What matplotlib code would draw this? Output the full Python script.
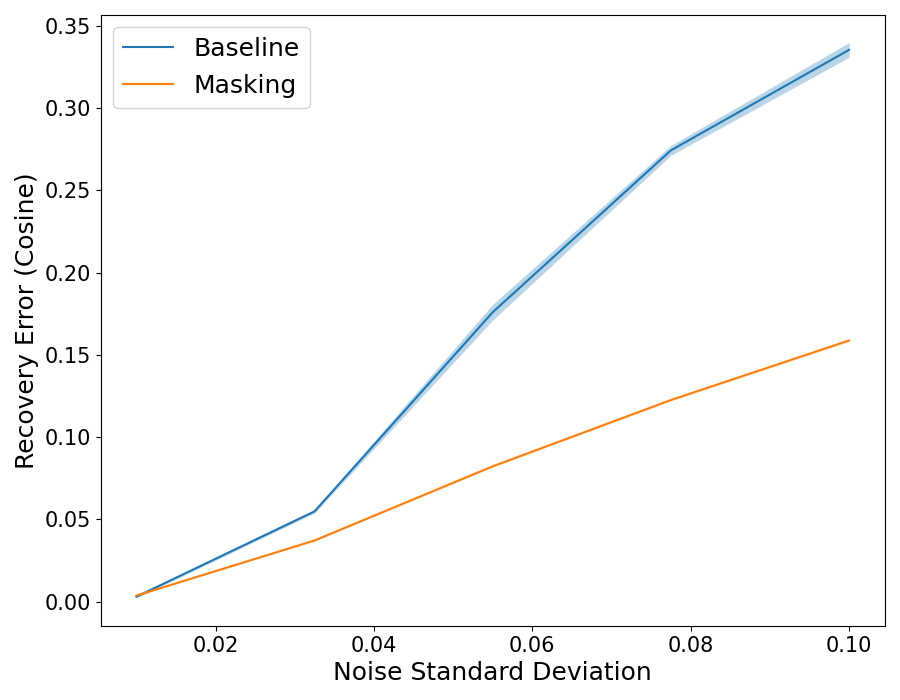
import matplotlib
matplotlib.use("Agg")
import matplotlib.pyplot as plt
import numpy as np

noise_std = [0.01, 0.0325, 0.055, 0.0775, 0.1]

baseline_mean = [0.003, 0.0549, 0.176, 0.2744, 0.3355]
baseline_err = [0.0008, 0.001, 0.0048, 0.003, 0.0045]

masking_mean = [0.0037, 0.0372, 0.0823, 0.1226, 0.1588]
masking_err = [0.0003, 0.0004, 0.0005, 0.0005, 0.0006]

fig, ax = plt.subplots(figsize=(9, 7), dpi=100)

for label, mean, err in [("Baseline", baseline_mean, baseline_err),
                         ("Masking", masking_mean, masking_err)]:
    mean = np.array(mean)
    err = np.array(err)
    line, = ax.plot(noise_std, mean, label=label)
    ax.fill_between(noise_std, mean - err, mean + err,
                    color=line.get_color(), alpha=0.3, linewidth=0)

ax.set_xlabel("Noise Standard Deviation", fontsize=18)
ax.set_ylabel("Recovery Error (Cosine)", fontsize=18)
ax.tick_params(labelsize=15)
ax.legend(fontsize=18, loc="upper left")

fig.subplots_adjust(left=0.112, right=0.983, top=0.979, bottom=0.106)
fig.savefig("out.png")
